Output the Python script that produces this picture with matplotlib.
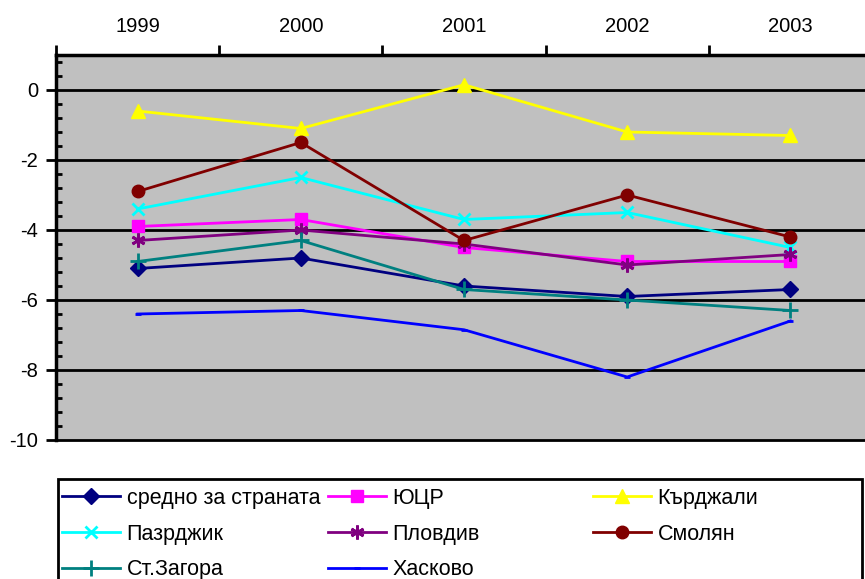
import matplotlib
matplotlib.use("Agg")
import matplotlib.pyplot as plt
from matplotlib.ticker import MultipleLocator, FixedLocator
from matplotlib.patches import Rectangle

years = ["1999", "2000", "2001", "2002", "2003"]

avg = [-5.1, -4.8, -5.6, -5.9, -5.7]
yucr = [-3.9, -3.7, -4.5, -4.9, -4.9]
kardzhali = [-0.6, -1.1, 0.15, -1.2, -1.3]
pazardzhik = [-3.4, -2.5, -3.7, -3.5, -4.5]
plovdiv = [-4.3, -4.0, -4.4, -5.0, -4.7]
smolyan = [-2.9, -1.5, -4.3, -3.0, -4.2]
stzagora = [-4.9, -4.3, -5.7, -6.0, -6.3]
haskovo = [-6.4, -6.3, -6.85, -8.2, -6.6]

labels = ["средно за страната", "ЮЦР", "Кърджали", "Пазрджик", "Пловдив",
          "Смолян", "Ст.Загора", "Хасково"]

plt.rcParams['font.family'] = ['Liberation Sans', 'DejaVu Sans']

fig = plt.figure(figsize=(8.65, 5.79), dpi=100)
ax = fig.add_axes([56/865, 1 - 440/579, 816/865, 385/579])
ax.set_facecolor('#c0c0c0')

x = list(range(len(years)))
styles = [
    (avg, '#000080', 'D', 8),
    (yucr, '#ff00ff', 's', 8),
    (kardzhali, '#ffff00', '^', 10),
    (pazardzhik, '#00ffff', 'x', 9),
    (plovdiv, '#800080', '*', 10),
    (smolyan, '#800000', 'o', 9),
    (stzagora, '#008080', '+', 11),
    (haskovo, '#0000ff', '_', 5),
]
handles = []
for (vals, col, mk, ms), lab in zip(styles, labels):
    if mk == '*':
        h, = ax.plot(x, vals, color=col, lw=2, marker=(6, 2, 0), ms=ms,
                     mew=2, label=lab)
    else:
        h, = ax.plot(x, vals, color=col, lw=2, marker=mk, ms=ms,
                     mew=2 if mk in ('x', '+', '_') else 1,
                     mec=col, mfc=col, label=lab)
    handles.append(h)

ax.set_xlim(-0.5, 4.5)
ax.set_ylim(-10, 1)

for v in [-8, -6, -4, -2, 0]:
    ax.axhline(v, color='black', lw=2, zorder=1)
ax.axhline(-10, color='black', lw=2, zorder=1, clip_on=False)

ax.xaxis.set_ticks_position('top')
ax.xaxis.set_major_locator(FixedLocator([-0.5, 0.5, 1.5, 2.5, 3.5, 4.5]))
ax.set_xticklabels([])
ax.xaxis.set_minor_locator(FixedLocator(x))
ax.set_xticklabels(years, minor=True)
ax.tick_params(axis='x', which='minor', length=0, labelsize=14.5, pad=14)
ax.tick_params(axis='x', which='major', length=7, width=2, direction='out')

ax.yaxis.set_minor_locator(MultipleLocator(0.4))
ax.set_yticks([0, -2, -4, -6, -8, -10])
ax.set_yticklabels(['0', '-2', '-4', '-6', '-8', '-10'])
ax.tick_params(axis='y', which='major', length=7, width=2, direction='out',
               labelsize=14.5, pad=6)
ax.tick_params(axis='y', which='minor', length=4, width=2, direction='in')

for s in ['right', 'bottom']:
    ax.spines[s].set_visible(False)
ax.spines['left'].set_linewidth(2.5)
ax.spines['top'].set_linewidth(2.5)

# legend frame
fig.patches.append(Rectangle((58/865, -10/579), 804/865, (579 - 479 + 10)/579,
                             transform=fig.transFigure, facecolor='white',
                             edgecolor='black', lw=2, zorder=0))

cols = [[0, 3, 6], [1, 4, 7], [2, 5]]
col_x = [62, 328, 593]
for idx, cx in zip(cols, col_x):
    fig.legend(handles=[handles[i] for i in idx],
               labels=[labels[i] for i in idx],
               loc='upper left', bbox_to_anchor=(cx/865, 1 - 488/579),
               fontsize=15.5, frameon=False, borderpad=0, handlelength=2.7,
               handletextpad=0.3, labelspacing=0.68, borderaxespad=0)

fig.savefig('out.png', dpi=100)
